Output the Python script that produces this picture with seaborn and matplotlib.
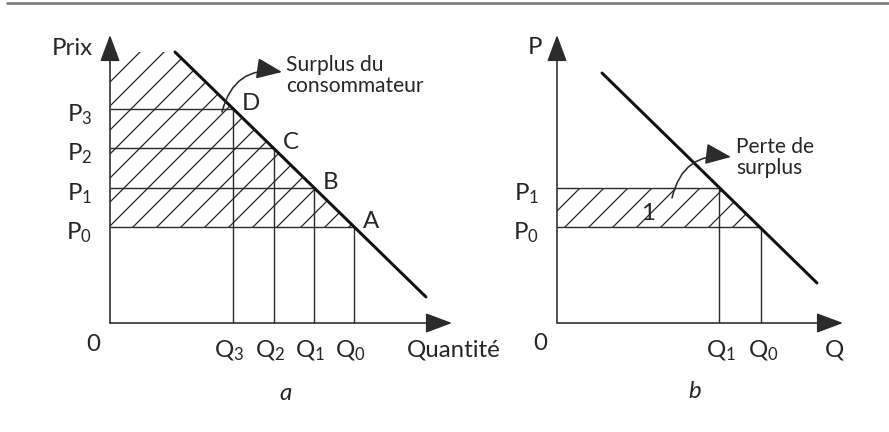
import matplotlib
matplotlib.use("Agg")
import matplotlib.pyplot as plt
from matplotlib.lines import Line2D
import seaborn as sns
import pandas as pd

# panel a : prices P0..P3 and quantities Q0..Q3 (same order)
prices_a = [9.6, 13.5, 17.5, 21.4]
quantities_a = [24.4, 20.35, 16.4, 12.3]
point_names_a = ["A", "B", "C", "D"]
demand_a_q = [6.5, 31.6]
demand_a_p = [27.1, 2.6]

# panel b : P0, P1 and Q0, Q1
prices_b = [9.6, 13.5]
quantities_b = [20.4, 16.2]
demand_b_q = [4.5, 26.0]
demand_b_p = [25.0, 4.0]

sns.set_theme(style="white")
plt.rcParams["font.family"] = ["Lato", "DejaVu Sans"]
plt.rcParams["mathtext.fontset"] = "custom"
plt.rcParams["mathtext.rm"] = "Lato"
plt.rcParams["mathtext.it"] = "Lato:italic"
plt.rcParams["mathtext.default"] = "rm"
plt.rcParams["hatch.linewidth"] = 0.65

ink = "#2b2b2b"
big = 12
small = 10.5

fig = plt.figure(figsize=(889 / 144, 432 / 144), dpi=144)
fig.patch.set_facecolor("white")
fig.add_artist(Line2D([7 / 889, 1], [1 - 3 / 432] * 2, color="#777777", lw=1.3))

axa = fig.add_axes([0, 0, 444 / 889, 1])
axb = fig.add_axes([444 / 889, 0, 445 / 889, 1])
axa.set_xlim(-11.0, 33.4)
axb.set_xlim(-11.3, 33.2)
for ax in (axa, axb):
    ax.set_ylim(-10.9, 32.3)
    ax.axis("off")
    ax.patch.set_alpha(0)

axis_arrow = dict(arrowstyle="-|>,head_length=1.15,head_width=0.43",
                  color=ink, lw=0.8, shrinkA=0, shrinkB=0, mutation_scale=10)
curve_arrow = dict(arrowstyle="-|>,head_length=1.1,head_width=0.45",
                   color=ink, lw=0.8, shrinkA=0, shrinkB=0, mutation_scale=10)


def draw_axes(ax, x_end, y_end):
    ax.annotate("", xy=(0, y_end), xytext=(0, 0), arrowprops=axis_arrow,
                annotation_clip=False)
    ax.annotate("", xy=(x_end, 0), xytext=(0, 0), arrowprops=axis_arrow,
                annotation_clip=False)


def draw_demand(ax, dq, dp):
    df = pd.DataFrame({"q": dq, "p": dp})
    sns.lineplot(data=df, x="q", y="p", ax=ax, color="#111111", lw=1.5,
                 legend=False)
    ax.set_xlabel("")
    ax.set_ylabel("")


def draw_guides(ax, qs, ps):
    ax.hlines(ps, 0, qs, color=ink, lw=0.7)
    ax.vlines(qs, 0, ps, color=ink, lw=0.7)


# ---------- panel a ----------
axa.fill([0, quantities_a[0], demand_a_q[0], 0],
         [prices_a[0], prices_a[0], demand_a_p[0], demand_a_p[0]],
         facecolor="none", edgecolor=ink, hatch="//", lw=0)
draw_guides(axa, quantities_a, prices_a)
draw_axes(axa, 34.2, 28.8)
draw_demand(axa, demand_a_q, demand_a_p)

for i, (q, p) in enumerate(zip(quantities_a, prices_a)):
    axa.text(-1.8, p - 1.2, f"P$_{i}$", ha="right", va="baseline", fontsize=big)
    axa.text(q - 0.35, -3.4, f"Q$_{i}$", ha="center", va="baseline", fontsize=big)
    axa.text(q + 0.9, p - 0.1, point_names_a[i], ha="left", va="baseline",
             fontsize=big)

axa.text(-1.7, 26.8, "Prix", ha="right", va="baseline", fontsize=big)
axa.text(-1.7, -2.8, "0", ha="center", va="baseline", fontsize=big)
axa.text(29.7, -3.4, "Quantité", ha="left", va="baseline", fontsize=big)
axa.text(17.6, -7.7, "a", ha="center", va="baseline", fontsize=big, style="italic")
axa.text(17.6, 23.1, "Surplus du\nconsommateur", ha="left", va="baseline",
         fontsize=small, linespacing=1.05)
axa.annotate("", xy=(17.2, 25.1), xytext=(11.2, 21.1), annotation_clip=False,
             arrowprops=dict(curve_arrow, connectionstyle="arc3,rad=-0.45"))

# ---------- panel b ----------
axb.fill([0, quantities_b[0], quantities_b[1], 0],
         [prices_b[0], prices_b[0], prices_b[1], prices_b[1]],
         facecolor="none", edgecolor=ink, hatch="//", lw=0)
draw_guides(axb, quantities_b, prices_b)
draw_axes(axb, 28.6, 28.8)
draw_demand(axb, demand_b_q, demand_b_p)

for i, (q, p) in enumerate(zip(quantities_b, prices_b)):
    axb.text(-1.8, p - 1.2, f"P$_{i}$", ha="right", va="baseline", fontsize=big)
    axb.text(q + 0.2, -3.4, f"Q$_{i}$", ha="center", va="baseline", fontsize=big)

axb.text(-1.5, 26.9, "P", ha="right", va="baseline", fontsize=big)
axb.text(-1.7, -2.7, "0", ha="center", va="baseline", fontsize=big)
axb.text(27.8, -3.4, "Q", ha="center", va="baseline", fontsize=big)
axb.text(13.8, -7.5, "b", ha="center", va="baseline", fontsize=big, style="italic")
axb.text(9.1, 10.3, "1", ha="center", va="baseline", fontsize=big)
axb.text(17.9, 14.9, "Perte de\nsurplus", ha="left", va="baseline",
         fontsize=small, linespacing=1.05)
axb.annotate("", xy=(17.4, 16.6), xytext=(11.5, 12.5), annotation_clip=False,
             arrowprops=dict(curve_arrow, connectionstyle="arc3,rad=-0.45"))

fig.savefig("out.png", dpi=144, facecolor="white")
